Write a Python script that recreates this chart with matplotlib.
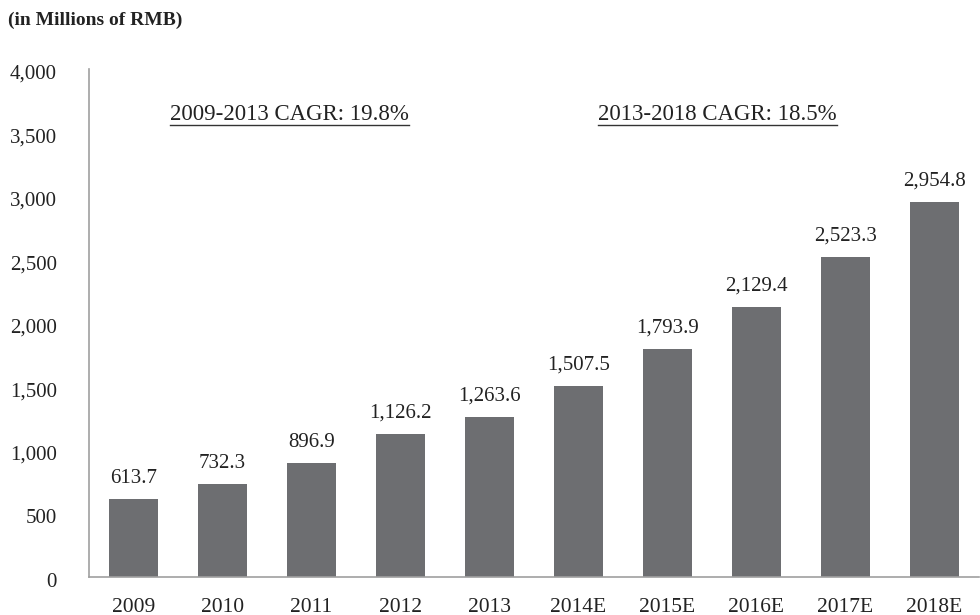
import matplotlib.pyplot as plt
import matplotlib.transforms as mtransforms
from matplotlib.lines import Line2D

plt.rcParams['font.family'] = ['Liberation Serif', 'DejaVu Serif']

years = ["2009", "2010", "2011", "2012", "2013", "2014E", "2015E", "2016E", "2017E", "2018E"]
values = [613.7, 732.3, 896.9, 1126.2, 1263.6, 1507.5, 1793.9, 2129.4, 2523.3, 2954.8]
yticks = [0, 500, 1000, 1500, 2000, 2500, 3000, 3500, 4000]
cagr_notes = ["2009-2013 CAGR: 19.8%", "2013-2018 CAGR: 18.5%"]
cagr_x = [1.75, 6.56]

fig = plt.figure(figsize=(9.8, 6.15), dpi=100)
ax = fig.add_axes([0.0908, 0.0618, 0.908, 0.826])

x = range(len(years))
ax.bar(x, values, width=0.55, color="#6d6e71", zorder=2)
for i, v in zip(x, values):
    ax.text(i, v + 90, f"{v:,.1f}", ha="center", va="bottom", fontsize=15, color="#222222")

ax.set_xlim(-0.5, len(years) - 0.5)
ax.set_ylim(0, 4000)
ax.set_yticks(yticks)
ax.set_yticklabels([f"{t:,}" for t in yticks], fontsize=15, color="#222222")
ax.set_xticks(list(x))
ax.set_xticklabels(years, fontsize=15.5, color="#222222")
ax.tick_params(axis="both", length=0)
ax.tick_params(axis="y", pad=23)
ax.tick_params(axis="x", pad=15)
# nudge y labels a little below their ticks, as in the original
shift = mtransforms.ScaledTranslation(0, -3 / 100, fig.dpi_scale_trans)
for lab in ax.get_yticklabels():
    lab.set_transform(lab.get_transform() + shift)
for s in ["top", "right"]:
    ax.spines[s].set_visible(False)
for s in ["left", "bottom"]:
    ax.spines[s].set_color("#a0a0a0")
    ax.spines[s].set_linewidth(1.2)

fig.text(0.008, 0.967, "(in Millions of RMB)", fontsize=14, fontweight="bold",
         color="#222222", va="center")

fig.canvas.draw()
renderer = fig.canvas.get_renderer()
for note, cx in zip(cagr_notes, cagr_x):
    t = ax.text(cx, 3600, note, ha="center", va="baseline", fontsize=16.5, color="#222222")
    bb = t.get_window_extent(renderer).transformed(fig.transFigure.inverted())
    yb = ax.transData.transform((0, 3600))[1] / fig.bbox.height - 0.008
    fig.add_artist(Line2D([bb.x0, bb.x1], [yb, yb], color="#333333", lw=1.0))

fig.savefig("out.png", dpi=100)
